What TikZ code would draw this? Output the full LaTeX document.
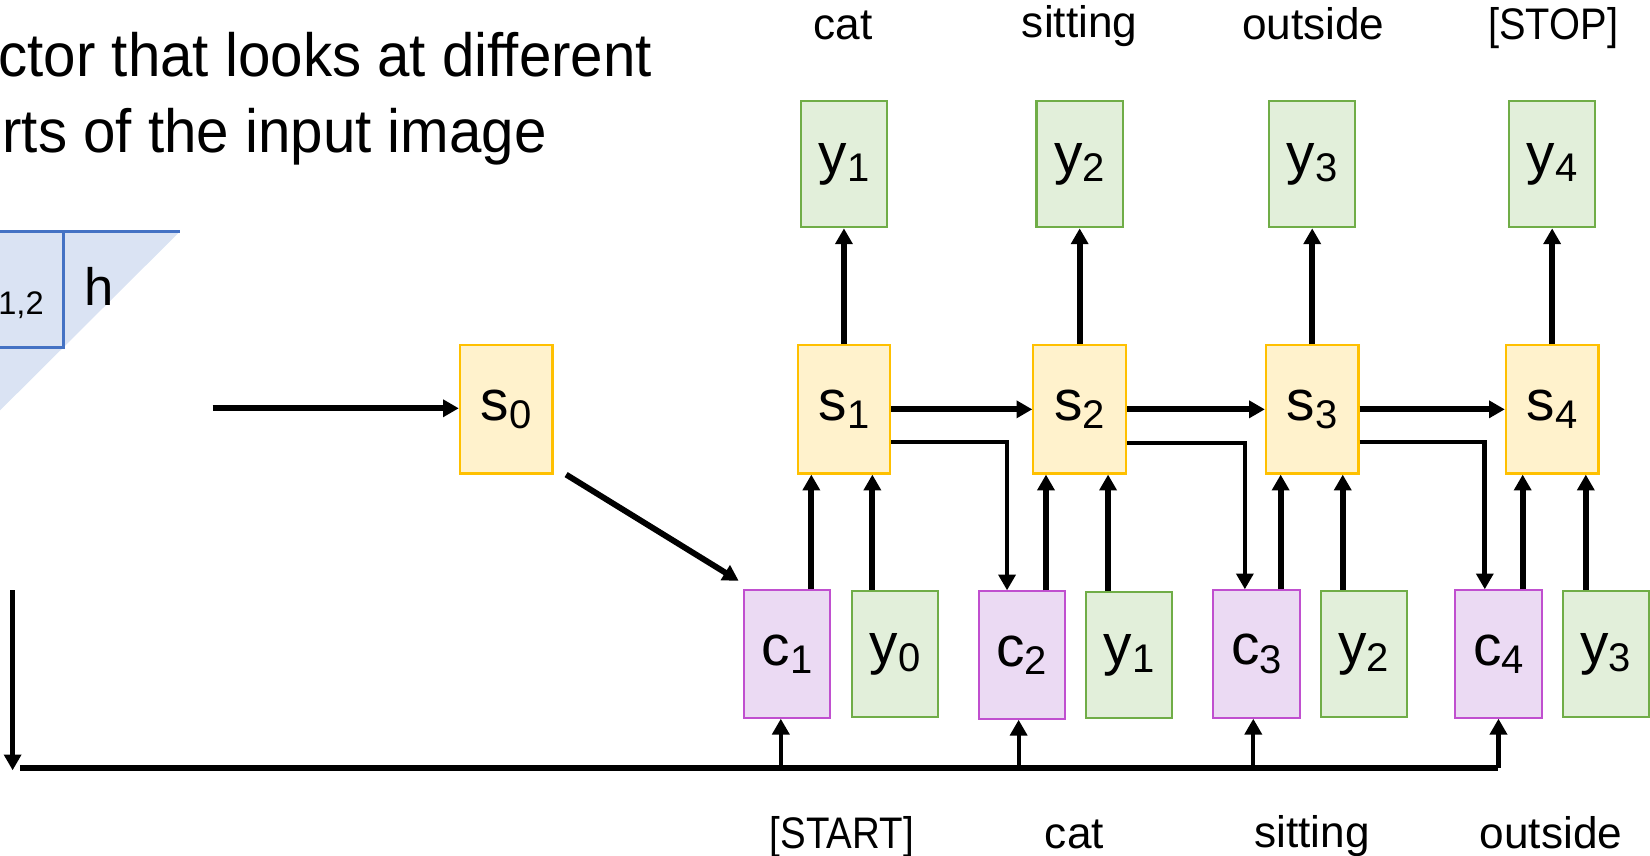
\documentclass[tikz,border=0pt]{standalone}
\usepackage{fontspec}
\setmainfont{Liberation Sans}
\usepackage{xcolor}
\usepackage{tikz}
\usetikzlibrary{arrows.meta, positioning, calc}

\definecolor{yellowfill}{HTML}{FFF2CC}
\definecolor{yellowdraw}{HTML}{FFC000}
\definecolor{greenfill}{HTML}{E2EFDA}
\definecolor{greendraw}{HTML}{70AD47}
\definecolor{purplefill}{HTML}{EBDAF3}
\definecolor{purpledraw}{HTML}{C04FCF}
\definecolor{bluefill}{HTML}{DAE3F3}
\definecolor{bluedraw}{HTML}{4472C4}

\newcommand{\subidx}[1]{\raisebox{-4pt}{\fontsize{19}{19}\selectfont #1}}
\newcommand{\narrow}[2]{\scalebox{#1}[1]{#2}}

\begin{document}
\begin{tikzpicture}[
    x=0.5pt, y=-0.5pt,
    cell/.style={rectangle, draw, line width=1pt, inner sep=0pt, font=\fontsize{27}{27}\selectfont},
    state/.style={cell, fill=yellowfill, draw=yellowdraw, minimum width=44pt, minimum height=61pt},
    outbox/.style={cell, fill=greenfill, draw=greendraw, minimum width=41pt, minimum height=60pt},
    ctxbox/.style={cell, fill=purplefill, draw=purpledraw, minimum width=41pt, minimum height=60.5pt},
    word/.style={anchor=base, inner sep=0pt, font=\fontsize{21}{21}\selectfont},
    arrow/.style={-{Triangle[length=7.5pt, width=8pt]}, line width=2.8pt},
    elbow/.style={-{Triangle[length=7.5pt, width=8pt]}, line width=2.2pt},
    feed/.style={-{Triangle[length=7.5pt, width=8pt]}, line width=2pt},
    bus/.style={line width=2.8pt},
]
    \useasboundingbox (0,0) rectangle (1568,813);

    % Title (cut at the left edge)
    \node[anchor=base east, inner sep=0pt, font=\fontsize{29}{29}\selectfont] (title1) at (620,73) {\narrow{0.955}{ctor that looks at different}};
    \node[anchor=base east, inner sep=0pt, font=\fontsize{29}{29}\selectfont] (title2) at (520,145) {\narrow{0.955}{rts of the input image}};

    % Encoder grid (cut at the left edge)
    \fill[bluefill] (0,220) -- (171,220) -- (0,390) -- cycle;
    \draw[bluedraw, line width=1.3pt] (0,220) -- (171,220);
    \draw[bluedraw, line width=1.3pt] (0,330) -- (60,330) -- (60,220);
    \node[anchor=base west, inner sep=0pt, font=\fontsize{25}{25}\selectfont] (hlab) at (80,290) {h};
    \node[anchor=base west, inner sep=0pt, font=\fontsize{15.5}{15.5}\selectfont] (hidx) at (-2,299) {1,2};

    % States
    \node[state] (s0) at (481,389) {s\subidx{0}};
    \node[state] (s1) at (802,389) {s\subidx{1}};
    \node[state] (s2) at (1026,389) {s\subidx{2}};
    \node[state] (s3) at (1247,389) {s\subidx{3}};
    \node[state] (s4) at (1475,389) {s\subidx{4}};

    % Outputs
    \node[outbox] (yt1) at (802,156) {y\subidx{1}};
    \node[outbox] (yt2) at (1026,156) {y\subidx{2}};
    \node[outbox] (yt3) at (1247,156) {y\subidx{3}};
    \node[outbox] (yt4) at (1475,156) {y\subidx{4}};

    % Context vectors and inputs
    \node[ctxbox] (c1) at (748,621.5) {c\subidx{1}};
    \node[outbox] (yin0) at (850.5,621.5) {y\subidx{0}};
    \node[ctxbox] (c2) at (971,622.5) {c\subidx{2}};
    \node[outbox] (yin1) at (1073,622.5) {y\subidx{1}};
    \node[ctxbox] (c3) at (1194,621.5) {c\subidx{3}};
    \node[outbox] (yin2) at (1296,621.5) {y\subidx{2}};
    \node[ctxbox] (c4) at (1424,621.5) {c\subidx{4}};
    \node[outbox] (yin3) at (1526,621.5) {y\subidx{3}};

    % Words
    \node[word] (wt1) at (801,38) {cat};
    \node[word] (wt2) at (1026,36) {sitting};
    \node[word] (wt3) at (1248,38) {outside};
    \node[word] (wt4) at (1476,38) {\narrow{0.9}{[STOP]}};
    \node[word] (wb0) at (800,806) {\narrow{0.87}{[START]}};
    \node[word] (wb1) at (1021,806) {cat};
    \node[word] (wb2) at (1247,805) {sitting};
    \node[word] (wb3) at (1474,806) {outside};

    % Arrows
    \coordinate (enc) at (202,388);
    \draw[arrow] (enc) -- (enc -| s0.west);
    \draw[arrow] ($(s0.south east)+(12,0)$) -- ($(c1.north west)+(-4,-8)$);
    \draw[arrow] (s1.north) -- (yt1.south);
    \draw[arrow] (s2.north) -- (yt2.south);
    \draw[arrow] (s3.north) -- (yt3.south);
    \draw[arrow] (s4.north) -- (yt4.south);
    \draw[arrow] (s1.east) -- (s2.west);
    \draw[arrow] (s2.east) -- (s3.west);
    \draw[arrow] (s3.east) -- (s4.west);
    \draw[elbow] ($(s1.east)+(0,31)$) -| ($(c2.north)+(-14,0)$);
    \draw[elbow] ($(s2.east)+(0,32)$) -| ($(c3.north)+(-11,0)$);
    \draw[elbow] ($(s3.east)+(0,31)$) -| ($(c4.north)+(-13,0)$);
    \draw[arrow] ($(c1.north -| s1.south west)+(14,0)$) -- ($(s1.south west)+(14,0)$);
    \draw[arrow] ($(yin0.north -| s1.south east)+(-18,0)$) -- ($(s1.south east)+(-18,0)$);
    \draw[arrow] ($(c2.north -| s2.south west)+(13,0)$) -- ($(s2.south west)+(13,0)$);
    \draw[arrow] ($(yin1.north -| s2.south east)+(-18,0)$) -- ($(s2.south east)+(-18,0)$);
    \draw[arrow] ($(c3.north -| s3.south west)+(15,0)$) -- ($(s3.south west)+(15,0)$);
    \draw[arrow] ($(yin2.north -| s3.south east)+(-16,0)$) -- ($(s3.south east)+(-16,0)$);
    \draw[arrow] ($(c4.north -| s4.south west)+(17,0)$) -- ($(s4.south west)+(17,0)$);
    \draw[arrow] ($(yin3.north -| s4.south east)+(-13,0)$) -- ($(s4.south east)+(-13,0)$);

    % Feedback bus
    \coordinate (ret) at (12,561);
    \coordinate (retend) at (12,732);
    \draw[arrow, line width=2.4pt] (ret) -- (retend);
    \coordinate (bus) at (19,730);
    \draw[bus] (bus) -- (bus -| c4.south);
    \draw[feed] ($(bus -| c1.south)+(-6,0)$) -- ($(c1.south)+(-6,0)$);
    \draw[feed] ($(bus -| c2.south)+(-3,0)$) -- ($(c2.south)+(-3,0)$);
    \draw[feed] ($(bus -| c3.south)+(-3,0)$) -- ($(c3.south)+(-3,0)$);
    \draw[feed] (bus -| c4.south) -- (c4.south);
\end{tikzpicture}
\end{document}
